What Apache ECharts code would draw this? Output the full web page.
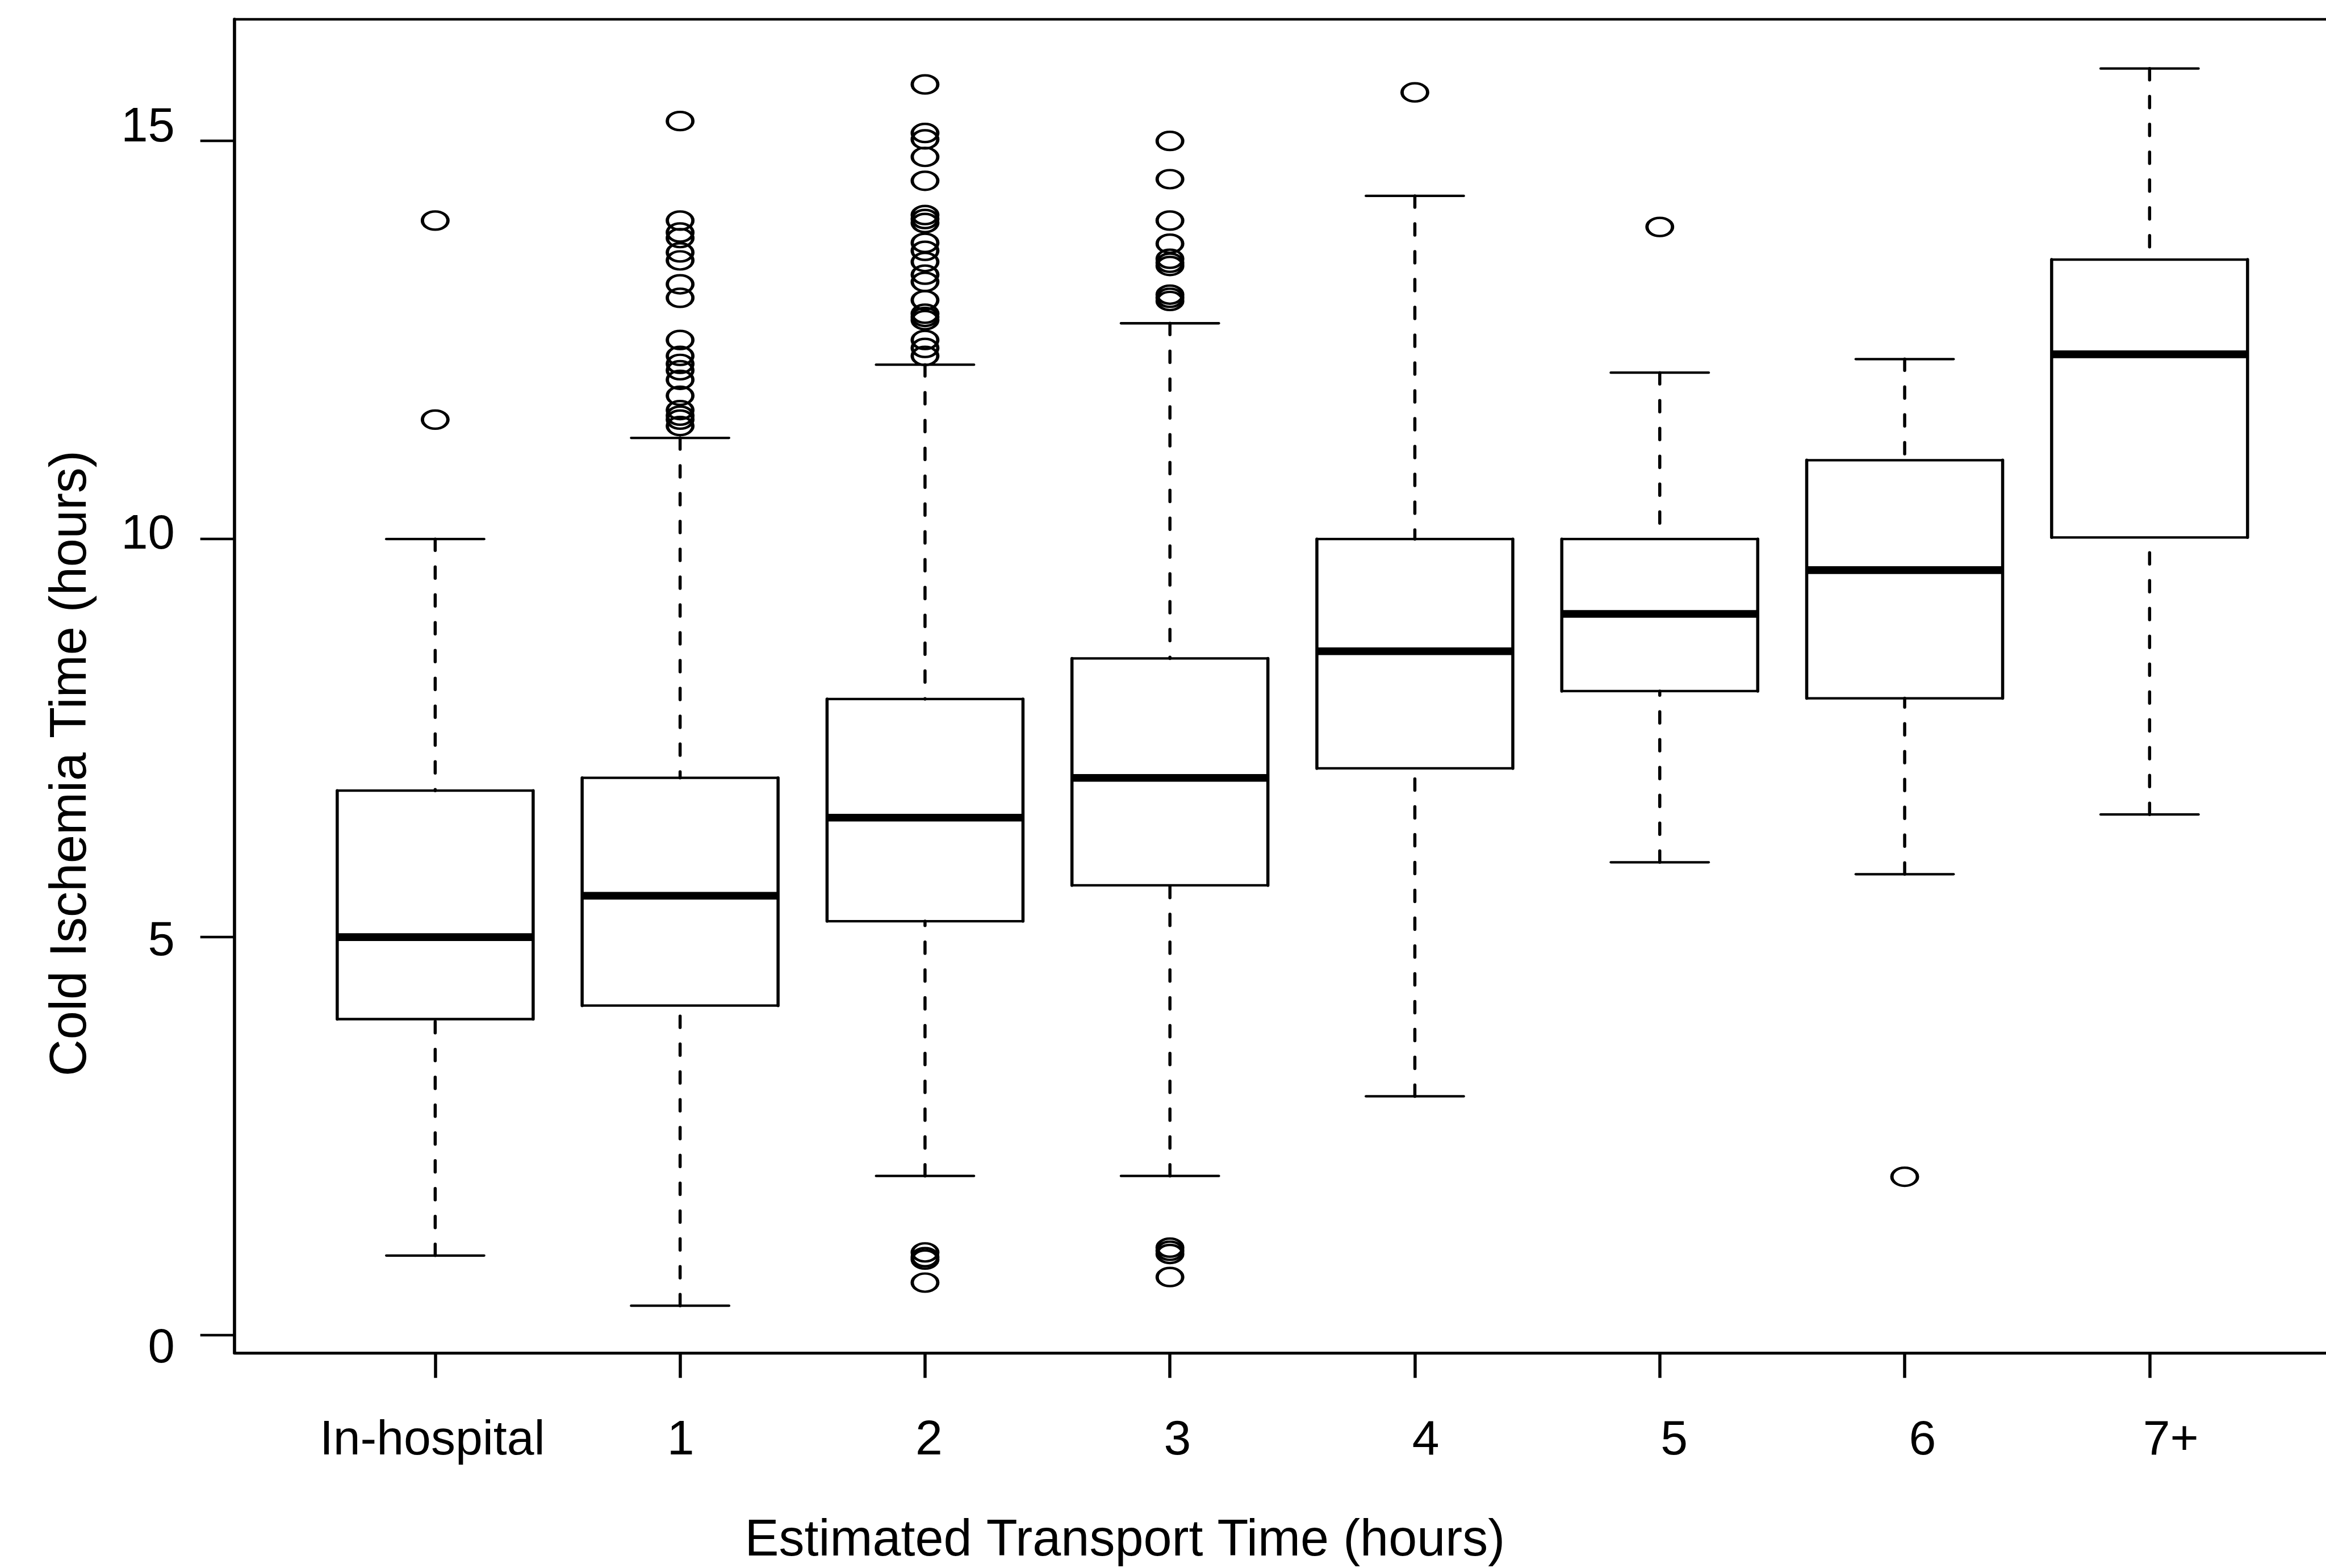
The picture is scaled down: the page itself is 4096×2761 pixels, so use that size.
<!DOCTYPE html>
<html><head><meta charset="utf-8">
<script src="https://cdn.jsdelivr.net/npm/echarts@6/dist/echarts.min.js"></script>
<style>html,body{margin:0;padding:0;background:#fff}#c{width:4096px;height:2761px}</style>
</head><body><div id="c"></div>
<script>
// ---- data (hours) ----
const categories = ['In-hospital', '1', '2', '3', '4', '5', '6', '7+'];
const groupPositions = [1, 2, 3, 4, 5, 6, 7, 8];
const lowerWhisker = [1.0, 0.37, 2.0, 2.0, 3.0, 5.94, 5.79, 6.54];
const q1Values     = [3.97, 4.14, 5.2, 5.65, 7.12, 8.09, 8.0, 10.02];
const medianValues = [5.0, 5.52, 6.5, 7.0, 8.59, 9.06, 9.61, 12.32];
const q3Values     = [6.84, 7.0, 7.99, 8.5, 10.0, 10.0, 10.99, 13.51];
const upperWhisker = [10.0, 11.27, 12.19, 12.71, 14.31, 12.09, 12.26, 15.91];

const outliersInHospital = [14.0, 11.5];
const outliers1h = [15.25, 14.0, 13.85, 13.78, 13.6, 13.5, 13.2, 13.03, 12.5, 12.3, 12.2, 12.12, 12.0, 11.8, 11.62, 11.55, 11.5, 11.42];
const outliers2h = [15.71, 15.1, 15.02, 14.8, 14.5, 14.07, 14.02, 13.97, 13.72, 13.62, 13.48, 13.32, 13.23, 13.0, 12.83, 12.79, 12.75, 12.5, 12.4, 12.3, 1.04, 0.98, 0.95, 0.66];
const outliers3h = [15.0, 14.52, 14.0, 13.71, 13.52, 13.47, 13.43, 13.07, 13.03, 12.99, 1.1, 1.06, 1.02, 0.73];
const outliers4h = [15.61];
const outliers5h = [13.92];
const outliers6h = [1.99];
const outliers7h = [];
const outlierGroups = [outliersInHospital, outliers1h, outliers2h, outliers3h, outliers4h, outliers5h, outliers6h, outliers7h];

const yTickValues = [0, 5, 10, 15];
const xAxisTitle = 'Estimated Transport Time (hours)';
const yAxisTitle = 'Cold Ischemia Time (hours)';

// ---- build series data ----
const boxData = groupPositions.map((p, i) => [p, lowerWhisker[i], q1Values[i], medianValues[i], q3Values[i], upperWhisker[i]]);
const outlierData = [];
outlierGroups.forEach((arr, i) => arr.forEach(v => outlierData.push([groupPositions[i], v])));

const FONT = '"Liberation Sans", Arial, Helvetica, sans-serif';
const VLW = 5.5;   // vertical strokes
const HLW = 4.3;   // horizontal strokes

function renderBox(params, api) {
  const x = api.value(0);
  const pLo = api.coord([x, api.value(1)]);
  const pQ1 = api.coord([x, api.value(2)]);
  const pMd = api.coord([x, api.value(3)]);
  const pQ3 = api.coord([x, api.value(4)]);
  const pHi = api.coord([x, api.value(5)]);
  const hb = api.size([0.4, 0])[0];
  const hc = api.size([0.2, 0])[0];
  const cx = pLo[0];
  const dash = {stroke: '#000', lineWidth: VLW, lineDash: [20, 29], lineCap: 'round', fill: null};
  const hstyle = {stroke: '#000', lineWidth: HLW, lineCap: 'round', fill: null};
  const vstyle = {stroke: '#000', lineWidth: VLW, lineCap: 'round', fill: null};
  return {
    type: 'group',
    children: [
      {type: 'line', shape: {x1: cx, y1: pHi[1], x2: cx, y2: pQ3[1]}, style: dash},
      {type: 'line', shape: {x1: cx, y1: pLo[1], x2: cx, y2: pQ1[1]}, style: dash},
      {type: 'line', shape: {x1: cx - hc, y1: pHi[1], x2: cx + hc, y2: pHi[1]}, style: hstyle},
      {type: 'line', shape: {x1: cx - hc, y1: pLo[1], x2: cx + hc, y2: pLo[1]}, style: hstyle},
      {type: 'line', shape: {x1: cx - hb, y1: pQ3[1], x2: cx + hb, y2: pQ3[1]}, style: hstyle},
      {type: 'line', shape: {x1: cx - hb, y1: pQ1[1], x2: cx + hb, y2: pQ1[1]}, style: hstyle},
      {type: 'line', shape: {x1: cx - hb, y1: pQ1[1], x2: cx - hb, y2: pQ3[1]}, style: vstyle},
      {type: 'line', shape: {x1: cx + hb, y1: pQ1[1], x2: cx + hb, y2: pQ3[1]}, style: vstyle},
      {type: 'line', shape: {x1: cx - hb, y1: pMd[1], x2: cx + hb, y2: pMd[1]}, style: {stroke: '#000', lineWidth: 13.6, lineCap: 'butt', fill: null}}
    ]
  };
}

const chart = echarts.init(document.getElementById('c'), null, {renderer: 'canvas'});
chart.setOption({
  animation: false,
  backgroundColor: '#fff',
  grid: {left: 412.7, top: 34, right: -43, bottom: 378.7, show: true, borderColor: '#000', borderWidth: HLW, backgroundColor: 'transparent', containLabel: false, outerBoundsMode: 'none'},
  xAxis: [
    {
      type: 'value', position: 'bottom', min: 0.18, max: 8.82,
      axisLine: {show: true, onZero: false, lineStyle: {color: '#000', width: HLW}},
      axisTick: {show: true, customValues: groupPositions, length: 44, lineStyle: {color: '#000', width: VLW}},
      axisLabel: {show: false},
      splitLine: {show: false},
      name: xAxisTitle, nameLocation: 'middle', nameGap: 287,
      nameTextStyle: {fontFamily: FONT, fontSize: 90, color: '#000', padding: [0, 590, 0, 0]}
    },
    {
      type: 'value', position: 'bottom', min: 0.203, max: 8.723,
      axisLine: {show: false, onZero: false}, axisTick: {show: false}, splitLine: {show: false},
      axisLabel: {show: true, customValues: groupPositions, margin: 112, fontFamily: FONT, fontSize: 86, color: '#000',
        formatter: v => categories[Math.round(v) - 1] || ''}
    }
  ],
  yAxis: [
    {
      type: 'value', position: 'left', min: -0.223, max: 16.528,
      axisLine: {show: true, onZero: false, lineStyle: {color: '#000', width: VLW}},
      axisTick: {show: true, customValues: yTickValues, length: 60, lineStyle: {color: '#000', width: HLW}},
      axisLabel: {show: false},
      splitLine: {show: false},
      name: yAxisTitle, nameLocation: 'middle', nameGap: 242,
      nameTextStyle: {fontFamily: FONT, fontSize: 90, color: '#000', padding: [0, 272, 0, 0]}
    },
    {
      type: 'value', position: 'left', min: -0.047, max: 16.337,
      axisLine: {show: false, onZero: false}, axisTick: {show: false}, splitLine: {show: false},
      axisLabel: {show: true, customValues: yTickValues, margin: 105, fontFamily: FONT, fontSize: 85, color: '#000'}
    }
  ],
  series: [
    {type: 'custom', xAxisIndex: 0, yAxisIndex: 0, renderItem: renderBox, data: boxData, clip: false,
      encode: {x: 0, y: [1, 2, 3, 4, 5]}},
    {type: 'scatter', xAxisIndex: 0, yAxisIndex: 0, data: outlierData, symbol: 'circle', symbolSize: [45, 32],
      itemStyle: {color: 'transparent', borderColor: '#000', borderWidth: 5, opacity: 1}, emphasis: {disabled: true}}
  ]
});
</script></body></html>
